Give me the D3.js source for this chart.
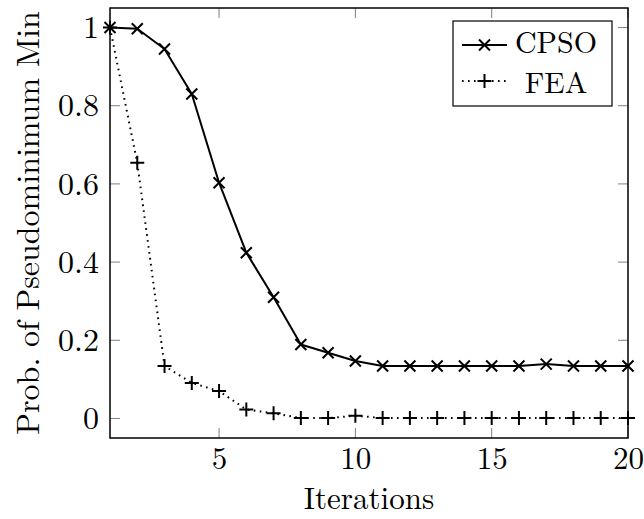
<!DOCTYPE html>
<html><head><meta charset="utf-8">
<script src="https://cdn.jsdelivr.net/npm/d3@7"></script>
<style>body{margin:0;background:#fff}</style>
</head><body><svg id="c" width="644" height="519"></svg>
<script>
const iterations = d3.range(1, 21);
const cpso = [1, 0.997, 0.945, 0.83, 0.603, 0.424, 0.31, 0.189, 0.168, 0.147, 0.134, 0.134, 0.134, 0.134, 0.134, 0.134, 0.139, 0.134, 0.134, 0.134];
const fea = [1, 0.654, 0.134, 0.091, 0.07, 0.023, 0.013, 0.001, 0.001, 0.007, 0.001, 0.001, 0.001, 0.001, 0.001, 0.001, 0.001, 0.001, 0.001, 0.001];
const xTicks = [5, 10, 15, 20];
const yTicks = [0, 0.2, 0.4, 0.6, 0.8, 1];
const seriesNames = ["CPSO", "FEA"];

const FONT = '"Latin Modern Roman", "CMU Serif", "Liberation Serif", serif';
const svg = d3.select("#c");
const L = 110, R = 628, T = 8, B = 438;
const x = d3.scaleLinear().domain([1, 20]).range([L, R]);
const y = d3.scaleLinear().domain([-0.05, 1.05]).range([B, T]);
const fs = 32;

// ticks (inside, gray, all four sides)
const tk = svg.append("g").attr("stroke", "#808080").attr("stroke-width", 1);
xTicks.forEach(v => {
  tk.append("line").attr("x1", x(v)).attr("x2", x(v)).attr("y1", B).attr("y2", B - 10);
  tk.append("line").attr("x1", x(v)).attr("x2", x(v)).attr("y1", T).attr("y2", T + 10);
});
yTicks.forEach(v => {
  tk.append("line").attr("x1", L).attr("x2", L + 10).attr("y1", y(v)).attr("y2", y(v));
  tk.append("line").attr("x1", R).attr("x2", R - 10).attr("y1", y(v)).attr("y2", y(v));
});

// tick labels
const xAxis = d3.axisBottom(x).tickValues(xTicks).tickSize(0).tickPadding(9).tickFormat(d3.format("d"));
const gx = svg.append("g").attr("transform", `translate(0,${B})`).call(xAxis);
gx.select(".domain").remove();
gx.selectAll("text").style("font-size", "31px").style("font-family", FONT).attr("fill", "#000");
const yAxis = d3.axisLeft(y).tickValues(yTicks).tickSize(0).tickPadding(11).tickFormat(d => d === 0 || d === 1 ? String(d) : d3.format(".1f")(d));
const gy = svg.append("g").attr("transform", `translate(${L},0)`).call(yAxis);
gy.select(".domain").remove();
gy.selectAll("text").style("font-size", fs + "px").style("font-family", FONT).attr("fill", "#000");

// frame
svg.append("rect").attr("x", L).attr("y", T).attr("width", R - L).attr("height", B - T)
  .attr("fill", "none").attr("stroke", "#000").attr("stroke-width", 1.5);

// axis labels
svg.append("text").attr("x", (L + R) / 2).attr("y", 509).attr("text-anchor", "middle")
  .style("font-family", FONT).style("font-size", "31px").text("Iterations");
svg.append("text").attr("transform", `translate(39,${(T + B) / 2}) rotate(-90)`).attr("text-anchor", "middle")
  .style("font-family", FONT).style("font-size", fs + "px").text("Prob. of Pseudominimum Min");

const line = d3.line().x((d, i) => x(iterations[i])).y(d => y(d)).curve(d3.curveLinear);

function xMark(g, cx, cy) {
  const s = 5.5;
  g.append("path").attr("d", `M${cx - s},${cy - s}L${cx + s},${cy + s}M${cx - s},${cy + s}L${cx + s},${cy - s}`)
    .attr("stroke", "#000").attr("stroke-width", 2).attr("fill", "none");
}
function pMark(g, cx, cy) {
  const s = 7;
  g.append("path").attr("d", `M${cx - s},${cy}L${cx + s},${cy}M${cx},${cy - s}L${cx},${cy + s}`)
    .attr("stroke", "#000").attr("stroke-width", 2).attr("fill", "none");
}

// CPSO
svg.append("path").datum(cpso).attr("d", line).attr("fill", "none").attr("stroke", "#000").attr("stroke-width", 2).attr("stroke-linejoin", "round");
const gc = svg.append("g");
cpso.forEach((v, i) => xMark(gc, x(iterations[i]), y(v)));

// FEA
svg.append("path").datum(fea).attr("d", line).attr("fill", "none").attr("stroke", "#000").attr("stroke-width", 2)
  .attr("stroke-dasharray", "1.6,4.4").attr("stroke-linecap", "butt");
const gf = svg.append("g");
fea.forEach((v, i) => pMark(gf, x(iterations[i]), y(v)));

// legend
const lg = svg.append("g");
lg.append("rect").attr("x", 453).attr("y", 21).attr("width", 159).attr("height", 85)
  .attr("fill", "#fff").attr("stroke", "#000").attr("stroke-width", 1.2);
lg.append("line").attr("x1", 462).attr("x2", 507).attr("y1", 45).attr("y2", 45).attr("stroke", "#000").attr("stroke-width", 2);
xMark(lg, 484.5, 45);
lg.append("line").attr("x1", 462).attr("x2", 507).attr("y1", 81).attr("y2", 81).attr("stroke", "#000").attr("stroke-width", 2)
  .attr("stroke-dasharray", "1.6,4.4");
pMark(lg, 484.5, 81);
lg.append("text").attr("x", 556).attr("y", 53).attr("text-anchor", "middle").style("font-family", FONT).style("font-size", "30px").text(seriesNames[0]);
lg.append("text").attr("x", 556).attr("y", 93).attr("text-anchor", "middle").style("font-family", FONT).style("font-size", "30px").text(seriesNames[1]);
</script></body></html>
